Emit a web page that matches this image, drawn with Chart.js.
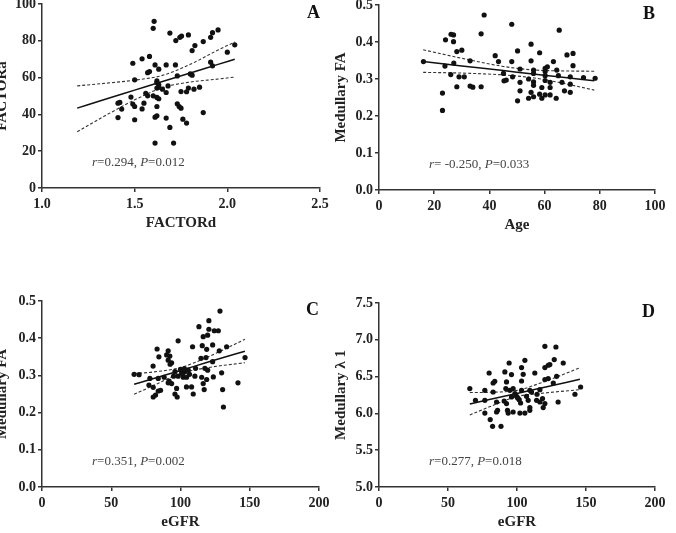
<!DOCTYPE html>
<html>
<head>
<meta charset="utf-8">
<script src="https://cdn.jsdelivr.net/npm/chart.js@4/dist/chart.umd.min.js"></script>
<style>
  html, body { margin: 0; padding: 0; background: #fff; overflow: hidden; }
  body { position: relative; width: 676px; height: 533px; }
  .panel { position: absolute; }
</style>
</head>
<body>
<div class="panel" style="left:-10px; top:-12px; width:350px; height:246px;"><canvas id="chartA"></canvas></div>
<div class="panel" style="left:330px; top:-12px; width:346px; height:248px;"><canvas id="chartB"></canvas></div>
<div class="panel" style="left:-10px; top:270px; width:349px; height:263px;"><canvas id="chartC"></canvas></div>
<div class="panel" style="left:330px; top:270px; width:346px; height:263px;"><canvas id="chartD"></canvas></div>
<script>
// Panel A: FACTORd vs FACTORa
var factorD = [1.605, 1.60, 1.69, 1.744, 1.753, 1.722, 1.79, 1.87, 1.825, 1.81, 1.91, 1.92, 1.95, 2.0, 2.04,
    1.49, 1.54, 1.58, 1.61, 1.67, 1.72, 1.57, 1.58, 1.63, 1.50, 1.62, 1.62, 1.63, 1.73, 1.80, 1.81, 1.91, 1.92,
    1.56, 1.57, 1.60, 1.62, 1.63, 1.65, 1.68, 1.67, 1.75, 1.78, 1.79, 1.82, 1.85, 1.62, 1.63, 1.48,
    1.41, 1.42, 1.43, 1.49, 1.50, 1.54, 1.55, 1.62, 1.73, 1.74, 1.75,
    1.41, 1.50, 1.61, 1.62, 1.67, 1.76, 1.78, 1.69, 1.87, 1.61, 1.71];
var factorA = [90.6, 86.8, 84.2, 81.9, 82.6, 80.1, 83.2, 79.6, 77.4, 74.7, 81.9, 84.4, 85.9, 73.8, 77.8,
    67.8, 70.2, 71.5, 66.9, 66.9, 66.9, 62.7, 63.3, 64.6, 58.8, 58.2, 57.3, 56.1, 60.9, 62.0, 61.3, 68.4, 66.4,
    51.5, 50.1, 50.1, 54.3, 54.8, 53.7, 55.5, 51.9, 52.4, 52.3, 54.3, 53.7, 54.8, 49.2, 48.5, 49.4,
    46.1, 46.5, 42.9, 45.6, 44.3, 43.0, 46.1, 44.3, 45.8, 44.3, 43.4,
    38.3, 37.1, 38.5, 39.2, 38.0, 37.4, 35.3, 32.9, 41.0, 24.4, 24.4];
var fitXA = [1.19, 1.35, 1.5, 1.65, 1.8, 1.95, 2.04];
var fitA = [43.4, 48.5, 53.2, 57.9, 62.5, 67.2, 70.0];
var upperA = [55.5, 57.0, 58.6, 61.2, 67.2, 75.0, 79.3];
var lowerA = [30.6, 39.8, 47.9, 54.5, 57.6, 59.2, 60.3];
var xTicksA = [1.0, 1.5, 2.0, 2.5];
var yTicksA = [0, 20, 40, 60, 80, 100];

// Panel B: Age vs Medullary FA
var ageB = [16.1, 23.9, 23.0, 23.0, 24.1, 26.1, 27.0, 27.0, 27.1, 26.0, 28.2, 30.0, 29.0, 30.9, 28.2, 33.0, 33.0, 34.0,
    37.0, 37.0, 38.1, 42.1, 43.3, 45.1, 45.3, 46.1, 48.1, 48.1, 48.4, 50.2, 50.2, 51.1, 51.1, 51.1, 54.2, 54.2,
    55.1, 55.1, 55.1, 56.0, 56.0, 56.0, 56.0, 56.0, 58.2, 58.2, 59.0, 59.0, 60.2, 60.2, 60.2, 60.2, 60.2, 61.0,
    62.0, 62.0, 62.0, 63.2, 64.2, 64.4, 65.0, 65.3, 66.3, 67.2, 68.1, 69.3, 69.3, 69.3, 70.3, 70.3, 74.1, 78.3];
var faB = [0.347, 0.335, 0.262, 0.215, 0.406, 0.421, 0.419, 0.401, 0.343, 0.312, 0.374, 0.378, 0.306, 0.306, 0.279, 0.349, 0.281, 0.278,
    0.422, 0.279, 0.473, 0.363, 0.347, 0.315, 0.295, 0.297, 0.448, 0.347, 0.306, 0.376, 0.241, 0.327, 0.291, 0.268, 0.300, 0.248,
    0.394, 0.349, 0.264, 0.324, 0.315, 0.292, 0.283, 0.252, 0.371, 0.259, 0.277, 0.248, 0.329, 0.320, 0.309, 0.296, 0.257, 0.333,
    0.291, 0.277, 0.257, 0.347, 0.248, 0.324, 0.309, 0.432, 0.291, 0.268, 0.365, 0.306, 0.286, 0.264, 0.369, 0.336, 0.304, 0.302];
var fitXB = [16, 30, 45, 55, 65, 78];
var fitB = [0.347, 0.335, 0.323, 0.314, 0.306, 0.295];
var upperB = [0.379, 0.356, 0.334, 0.325, 0.322, 0.321];
var lowerB = [0.318, 0.316, 0.311, 0.304, 0.291, 0.270];
var xTicksB = [0, 20, 40, 60, 80, 100];
var yTicksFA = [0.0, 0.1, 0.2, 0.3, 0.4, 0.5];

// Panel C: eGFR vs Medullary FA
var egfrC = [66.5, 70.1, 77.2, 77.9, 80.2, 80.3, 80.3, 82.0, 83.1, 83.9, 83.9, 84.4, 85.6, 88.2, 90.0, 91.1, 91.1, 91.1,
    91.8, 92.3, 93.6, 93.6, 96.0, 96.0, 97.2, 97.6, 98.3, 98.3, 100.8, 102.0, 103.2, 104.4, 104.3, 105.6, 108.0, 108.7,
    109.2, 110.4, 110.9, 113.3, 114.8, 115.3, 115.7, 116.4, 116.4, 117.1, 117.6, 118.4, 118.9, 118.9, 119.6, 119.6,
    120.5, 120.5, 123.2, 123.2, 123.7, 124.4, 127.3, 128.0, 128.5, 129.7, 130.4, 131.0, 133.3, 141.5, 146.6,
    100.0, 101.5, 102.8, 106.5, 95.0, 92.5];
var faC = [0.303, 0.302, 0.274, 0.292, 0.325, 0.268, 0.242, 0.247, 0.371, 0.292, 0.258, 0.350, 0.260, 0.295, 0.355, 0.366, 0.341, 0.280,
    0.285, 0.352, 0.334, 0.278, 0.310, 0.250, 0.265, 0.242, 0.393, 0.298, 0.307, 0.295, 0.310, 0.295, 0.269, 0.314, 0.269, 0.377,
    0.250, 0.298, 0.319, 0.431, 0.346, 0.295, 0.380, 0.404, 0.278, 0.262, 0.319, 0.348, 0.370, 0.289, 0.408, 0.314,
    0.447, 0.424, 0.382, 0.337, 0.296, 0.420, 0.420, 0.366, 0.473, 0.307, 0.262, 0.215, 0.377, 0.280, 0.348,
    0.316, 0.303, 0.318, 0.303, 0.298, 0.330];
var fitXC = [66.5, 80, 100, 120, 146.5];
var fitC = [0.276, 0.291, 0.313, 0.336, 0.365];
var upperC = [0.305, 0.309, 0.321, 0.350, 0.397];
var lowerC = [0.249, 0.272, 0.305, 0.321, 0.334];
var xTicksEGFR = [0, 50, 100, 150, 200];

// Panel D: eGFR vs Medullary lambda 1
var egfrD = [65.8, 69.9, 76.7, 76.7, 76.7, 79.8, 80.6, 82.3, 82.7, 82.7, 83.9, 85.2, 85.2, 85.9, 88.4, 90.7, 91.2, 91.9,
    92.4, 92.4, 93.1, 93.6, 94.3, 94.8, 96.0, 96.0, 97.2, 97.2, 99.7, 101.6, 102.1, 102.6, 103.3, 103.3, 103.3, 104.5,
    105.7, 105.7, 106.9, 108.1, 109.3, 109.3, 109.3, 112.9, 114.2, 116.6, 116.6, 118.5, 119.0, 120.2, 120.2, 120.2,
    120.2, 122.6, 122.6, 123.8, 126.3, 127.0, 128.2, 128.7, 129.8, 133.5, 142.0, 146.1, 98.5, 100.5, 110.5, 114.5];
var lambdaD = [6.337, 6.178, 6.314, 6.178, 6.005, 6.549, 5.916, 5.825, 6.413, 6.291, 6.436, 6.155, 6.019, 6.042, 5.825, 6.168, 6.563, 6.337,
    6.427, 6.133, 6.042, 6.005, 6.685, 6.314, 6.527, 6.223, 6.337, 6.019, 6.232, 6.187, 6.005, 6.141, 6.622, 6.440, 6.314, 6.531,
    6.721, 6.005, 6.232, 6.178, 6.314, 6.079, 6.042, 6.549, 6.178, 6.323, 6.155, 6.201, 6.079, 6.912, 6.622, 6.459,
    6.133, 6.654, 6.473, 6.663, 6.413, 6.731, 6.902, 6.504, 6.155, 6.685, 6.260, 6.359, 6.27, 6.21, 6.29, 6.26];
var fitXD = [65.8, 80, 100, 120, 145.6];
var fitD = [6.128, 6.188, 6.271, 6.355, 6.463];
var upperD = [6.283, 6.287, 6.313, 6.433, 6.620];
var lowerD = [5.978, 6.089, 6.229, 6.277, 6.322];
var yTicksD = [5.0, 5.5, 6.0, 6.5, 7.0, 7.5];

var SERIF = '"Liberation Serif", "Times New Roman", serif';
var INK = '#222';

function pairs(xs, ys) {
    return xs.map(function (x, i) { return { x: x, y: ys[i] }; });
}

var notePlugin = {
    id: 'note',
    afterDraw: function (chart, args, opts) {
        var ctx = chart.ctx, area = chart.chartArea;
        ctx.save();
        ctx.fillStyle = '#111';
        ctx.font = 'bold 18px ' + SERIF;
        ctx.textAlign = 'right';
        ctx.textBaseline = 'middle';
        ctx.fillText(opts.letter, area.right, area.top + 9);
        ctx.textAlign = 'left';
        ctx.fillStyle = '#444';
        var x = area.left + opts.dx;
        var y = area.bottom - opts.dy;
        opts.parts.forEach(function (p) {
            ctx.font = (p[1] ? 'italic ' : '') + '13px ' + SERIF;
            ctx.fillText(p[0], x, y);
            x += ctx.measureText(p[0]).width;
        });
        ctx.restore();
    }
};

function axis(min, max, ticks, title, decimals, boxSize, horizontal, titlePad) {
    return {
        type: 'linear',
        min: min,
        max: max,
        afterBuildTicks: function (scale) {
            scale.ticks = ticks.map(function (v) { return { value: v }; });
        },
        afterFit: function (scale) {
            if (horizontal) { scale.height = boxSize; } else { scale.width = boxSize; }
        },
        border: { display: true, color: '#333', width: 1.5 },
        grid: { display: true, drawOnChartArea: false, drawTicks: true, tickLength: 4, color: '#333', lineWidth: 1.5 },
        ticks: {
            padding: horizontal ? 4 : 2,
            color: INK,
            font: { family: SERIF, size: 14, weight: 'bold' },
            callback: function (v) { return Number(v).toFixed(decimals); }
        },
        title: {
            display: true,
            text: title,
            color: INK,
            padding: horizontal ? { top: 0, bottom: titlePad } : { top: titlePad, bottom: 0 },
            font: { family: SERIF, size: 15, weight: 'bold' }
        }
    };
}

function panel(id, p) {
    var ctx = document.getElementById(id);
    if (!ctx || !window.Chart) {
        return;
    }
    var line = function (xs, ys, dashed) {
        return {
            type: 'line',
            data: pairs(xs, ys),
            showLine: true,
            borderColor: dashed ? '#333' : '#111',
            borderWidth: dashed ? 1.1 : 1.5,
            borderDash: dashed ? [3, 2] : [],
            pointRadius: 0,
            cubicInterpolationMode: 'monotone',
            fill: false
        };
    };
    new Chart(ctx, {
        type: 'scatter',
        data: {
            datasets: [
                { data: pairs(p.xs, p.ys), pointRadius: 2.6, pointBackgroundColor: '#111', pointBorderWidth: 0 },
                line(p.fitX, p.fit, false),
                line(p.fitX, p.upper, true),
                line(p.fitX, p.lower, true)
            ]
        },
        options: {
            responsive: true,
            maintainAspectRatio: false,
            animation: false,
            layout: { padding: p.padding },
            plugins: {
                legend: { display: false },
                tooltip: { enabled: false },
                note: { letter: p.letter, dx: 50, dy: 25, parts: p.parts }
            },
            scales: {
                x: axis(p.xMin, p.xMax, p.xTicks, p.xTitle, p.xDec, 46, true, 2),
                y: axis(p.yMin, p.yMax, p.yTicks, p.yTitle, p.yDec, p.yWidth, false, p.yTitlePad)
            }
        },
        plugins: [notePlugin]
    });
}

panel('chartA', {
    xs: factorD, ys: factorA, fitX: fitXA, fit: fitA, upper: upperA, lower: lowerA,
    xMin: 1, xMax: 2.5, xTicks: xTicksA, xTitle: 'FACTORd', xDec: 1,
    yMin: 0, yMax: 100, yTicks: yTicksA, yTitle: 'FACTORa', yDec: 0,
    yWidth: 52, yTitlePad: 3, padding: { left: 0, top: 16, right: 20, bottom: 0 },
    letter: 'A', parts: [['r', true], ['=0.294, ', false], ['P', true], ['=0.012', false]]
});

panel('chartB', {
    xs: ageB, ys: faB, fitX: fitXB, fit: fitB, upper: upperB, lower: lowerB,
    xMin: 0, xMax: 100, xTicks: xTicksB, xTitle: 'Age', xDec: 0,
    yMin: 0, yMax: 0.5, yTicks: yTicksFA, yTitle: 'Medullary FA', yDec: 1,
    yWidth: 49, yTitlePad: 2, padding: { left: 0, top: 17, right: 21, bottom: 0 },
    letter: 'B', parts: [['r', true], ['= -0.250, ', false], ['P', true], ['=0.033', false]]
});

panel('chartC', {
    xs: egfrC, ys: faC, fitX: fitXC, fit: fitC, upper: upperC, lower: lowerC,
    xMin: 0, xMax: 200, xTicks: xTicksEGFR, xTitle: 'eGFR', xDec: 0,
    yMin: 0, yMax: 0.5, yTicks: yTicksFA, yTitle: 'Medullary FA', yDec: 1,
    yWidth: 52, yTitlePad: 3, padding: { left: 0, top: 31, right: 20, bottom: 0 },
    letter: 'C', parts: [['r', true], ['=0.351, ', false], ['P', true], ['=0.002', false]]
});

panel('chartD', {
    xs: egfrD, ys: lambdaD, fitX: fitXD, fit: fitD, upper: upperD, lower: lowerD,
    xMin: 0, xMax: 200, xTicks: xTicksEGFR, xTitle: 'eGFR', xDec: 0,
    yMin: 5, yMax: 7.5, yTicks: yTicksD, yTitle: 'Medullary \u03bb 1', yDec: 1,
    yWidth: 49, yTitlePad: 2, padding: { left: 0, top: 33, right: 21, bottom: 0 },
    letter: 'D', parts: [['r', true], ['=0.277, ', false], ['P', true], ['=0.018', false]]
});
</script>
</body>
</html>
